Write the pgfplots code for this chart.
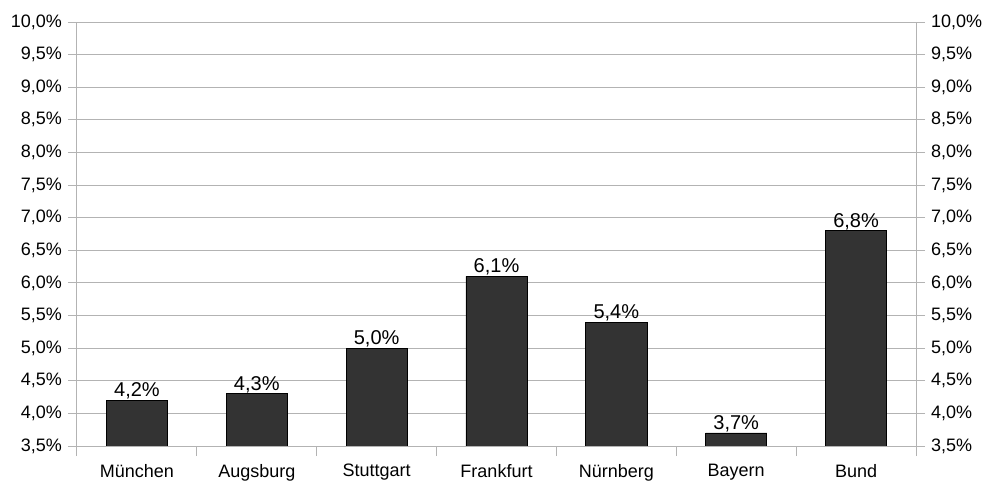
\documentclass[border=0pt]{standalone}
\usepackage{fontspec}
\setmainfont{Liberation Sans}
\usepackage{pgfplots}
\pgfplotsset{compat=1.18}
\definecolor{gridc}{HTML}{B3B3B3}
\definecolor{barc}{HTML}{333333}
\begin{document}
\fontsize{18bp}{21bp}\selectfont
\begin{tikzpicture}
\pgfplotsset{
 common/.style={
  scale only axis, width=839bp, height=424bp,
  xmin=-0.5, xmax=6.5, ymin=3.5, ymax=10,
  ytick={3.5,4,4.5,5,5.5,6,6.5,7,7.5,8,8.5,9,9.5,10},
  tick align=outside, major tick length=9bp, minor tick length=10bp,
  tick style={gridc, line width=1bp},
  axis line style={gridc, line width=1bp},
  tick label style={font=\fontsize{18bp}{21bp}\selectfont, black},
  /pgf/number format/use comma,
  /pgf/number format/fixed,
  /pgf/number format/fixed zerofill,
  /pgf/number format/precision=1,
  /pgf/number format/assume math mode=true,
  yticklabel={\pgfmathprintnumber{\tick}\%},
 }
}
\begin{axis}[common,
  ymajorgrids, grid style={gridc, line width=1bp},
  ytick pos=left, xtick pos=bottom,
  xtick={0,1,2,3,4,5,6},
  xticklabels={München,Augsburg,Stuttgart,Frankfurt,Nürnberg,Bayern,Bund},
  x tick label style={yshift=-3bp},
  minor xtick={-0.5,0.5,1.5,2.5,3.5,4.5,5.5,6.5},
  every major x tick/.style={draw=none},
  nodes near coords={\pgfmathprintnumber{\pgfplotspointmeta}\%},
  nodes near coords style={font=\fontsize{20bp}{24bp}\selectfont, black, anchor=south, inner sep=0.5bp},
]
\addplot[ybar, bar width=0.51, fill=barc, draw=black, line width=0.7bp]
  coordinates {(0,4.2)(1,4.3)(2,5.0)(3,6.1)(4,5.4)(5,3.7)(6,6.8)};
\end{axis}
\begin{axis}[common,
  hide x axis,
  axis y line*=right,
  ytick pos=right, yticklabel pos=right,
]
\end{axis}
\pgfresetboundingbox
\path ([xshift=-77bp,yshift=-36bp]current axis.south west) rectangle ++(984bp,482bp);
\end{tikzpicture}
\end{document}
